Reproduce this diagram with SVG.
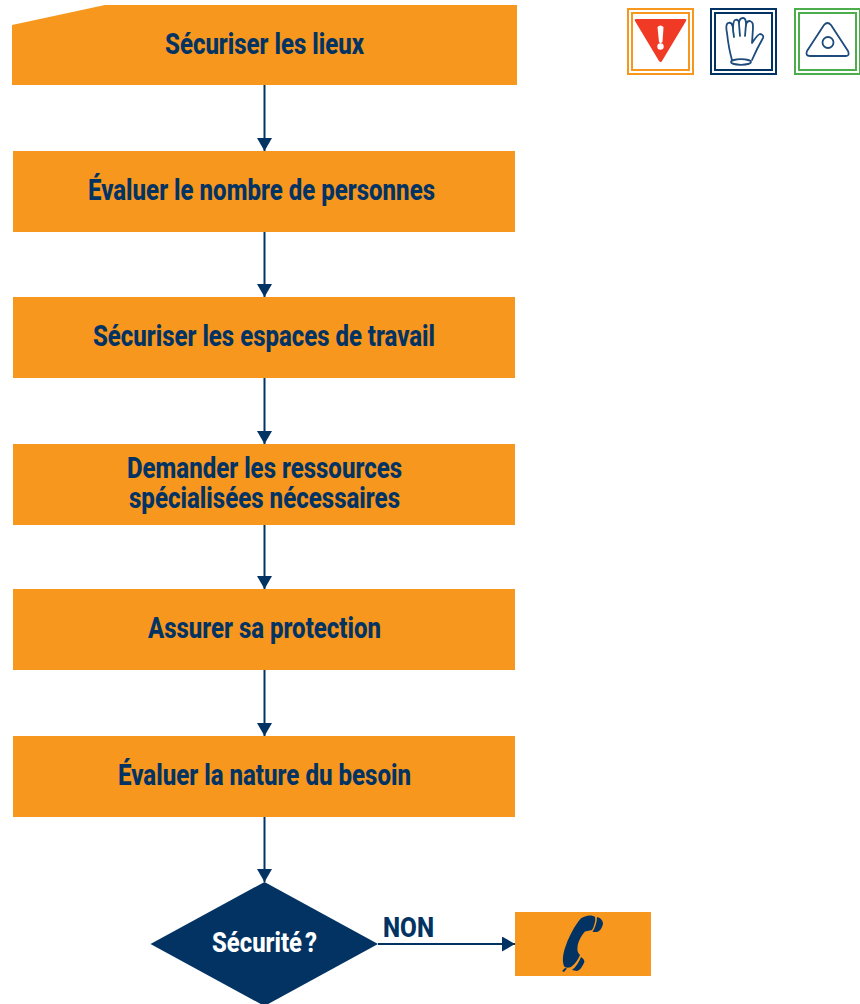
<svg xmlns="http://www.w3.org/2000/svg" width="860" height="1004" viewBox="0 0 860 1004">
<style>
.b{fill:#f8971d}
.t{font-family:Roboto,"Liberation Sans",sans-serif;font-weight:800;font-size:29px;fill:#033363;text-anchor:middle}
.c{stroke:#033363;stroke-width:2;fill:none}
.i{fill:none;stroke-width:2}
.l{fill:none;stroke:#1c4b7c;stroke-width:1.800;stroke-linejoin:round;stroke-linecap:round}
</style>
<defs><marker id="a" markerUnits="userSpaceOnUse" markerWidth="13" markerHeight="15" refX="13" refY="7.500" orient="auto"><path d="M0 0L13 7.500L0 15Z" fill="#033363"/></marker></defs>
<g id="connectors">
<path class="c" marker-end="url(#a)" d="M264.500 85V151"/>
<path class="c" marker-end="url(#a)" d="M264.500 232V297"/>
<path class="c" marker-end="url(#a)" d="M264.500 378V444"/>
<path class="c" marker-end="url(#a)" d="M264.500 525V589"/>
<path class="c" marker-end="url(#a)" d="M264.500 670V736"/>
<path class="c" marker-end="url(#a)" d="M264.500 817V882"/>
<path class="c" marker-end="url(#a)" d="M378 944H515"/>
</g>
<g id="n1"><path class="b" d="M12 25L105 5H517V85H12Z"/><text class="t" x="264.500" y="54" textLength="199" lengthAdjust="spacingAndGlyphs">Sécuriser les lieux</text></g>
<g id="n2"><rect class="b" x="13" y="151" width="502" height="81"/><text class="t" x="261.500" y="200" textLength="347" lengthAdjust="spacingAndGlyphs">Évaluer le nombre de personnes</text></g>
<g id="n3"><rect class="b" x="13" y="297" width="502" height="81"/><text class="t" x="264" y="346" textLength="342" lengthAdjust="spacingAndGlyphs">Sécuriser les espaces de travail</text></g>
<g id="n4"><rect class="b" x="13" y="444" width="502" height="81"/><text class="t" x="264.500" y="478" textLength="275" lengthAdjust="spacingAndGlyphs">Demander les ressources</text><text class="t" x="264.500" y="508" textLength="271" lengthAdjust="spacingAndGlyphs">spécialisées nécessaires</text></g>
<g id="n5"><rect class="b" x="13" y="589" width="502" height="81"/><text class="t" x="264.500" y="638" textLength="233" lengthAdjust="spacingAndGlyphs">Assurer sa protection</text></g>
<g id="n6"><rect class="b" x="13" y="736" width="502" height="81"/><text class="t" x="264.500" y="785" textLength="293" lengthAdjust="spacingAndGlyphs">Évaluer la nature du besoin</text></g>
<g id="n7"><path fill="#033363" d="M264.500 882L378 944L264.500 1006L150.500 944Z"/><text class="t" x="264.500" y="952" textLength="105" lengthAdjust="spacingAndGlyphs" style="fill:#fff;font-size:28px">Sécurité&#8239;?</text></g>
<g id="label-non"><text class="t" x="408.500" y="937" textLength="51" lengthAdjust="spacingAndGlyphs" style="font-size:28px">NON</text></g>
<g id="n8"><rect class="b" x="515" y="912" width="136" height="64"/>
<path fill="#033363" d="M585 916.500C588 915 593 915 595 917C596 920 594 927 592 930L585 931.500C581 936 578 942 577.500 947C577 951 578 953 580 955C578 960 574 965 571 967C568 968 565 968 564 966C562 961 563 954 565 948C568 938 573 929 578 922C580 919 582 917 585 916.500Z"/>
<path fill="#033363" d="M597 917C601 918 603 921 603 924C602 928 600 931 597 932L592.500 932C595 928 597 922 597 917ZM581 957C584 959 585 961 584 963C582 967 580 970 577 971L572 970C576 967 579 962 581 957ZM565 968L567 968.500L564 972L562 971Z"/></g>
<g id="icon-danger"><rect class="i" stroke="#f8971d" x="628" y="9" width="65" height="65"/><rect class="i" stroke="#f8971d" x="632" y="13" width="57" height="57"/><path fill="#f03a25" d="M636 19H685Q687 19 686 21L662 61Q661 63 659 61L635 21Q634 19 636 19Z"/><path fill="#fff" d="M657.500 27Q660.500 24 663.500 27L662.500 42Q660.500 44 659 42Z"/><circle cx="660.500" cy="46.500" r="3.200" fill="#fff"/></g>
<g id="icon-gloves"><rect class="i" stroke="#033363" x="711" y="9" width="65" height="65"/><rect class="i" stroke="#033363" x="715" y="13" width="57" height="57"/>
<path class="l" d="M732 60C729 50 728 42 727 33C726 28 726 24 728 23C731 22 733 24 733 30L734 37M733 30C733 26 733 21 735 20C738 19 739 21 739 24L740 36M739 24C739 21 740 18 743 18C745 18 746 20 746 24L745 36M746 26C746 23 747 21 750 21C753 22 753 24 753 28L752 43C755 39 757 35 760 34C762 34 764 36 763 38C759 45 755 53 752 60"/><ellipse class="l" cx="741" cy="62" rx="10" ry="2.800"/></g>
<g id="icon-triangle"><rect class="i" stroke="#4cae4b" x="795" y="9" width="65" height="65"/><rect class="i" stroke="#4cae4b" x="799" y="13" width="57" height="57"/>
<path class="l" d="M824 25Q827.500 21 831 25L848 51Q850 56 846 56H810Q805 56 807 51Z"/><circle class="l" cx="828" cy="42.500" r="5.500"/></g>
</svg>
